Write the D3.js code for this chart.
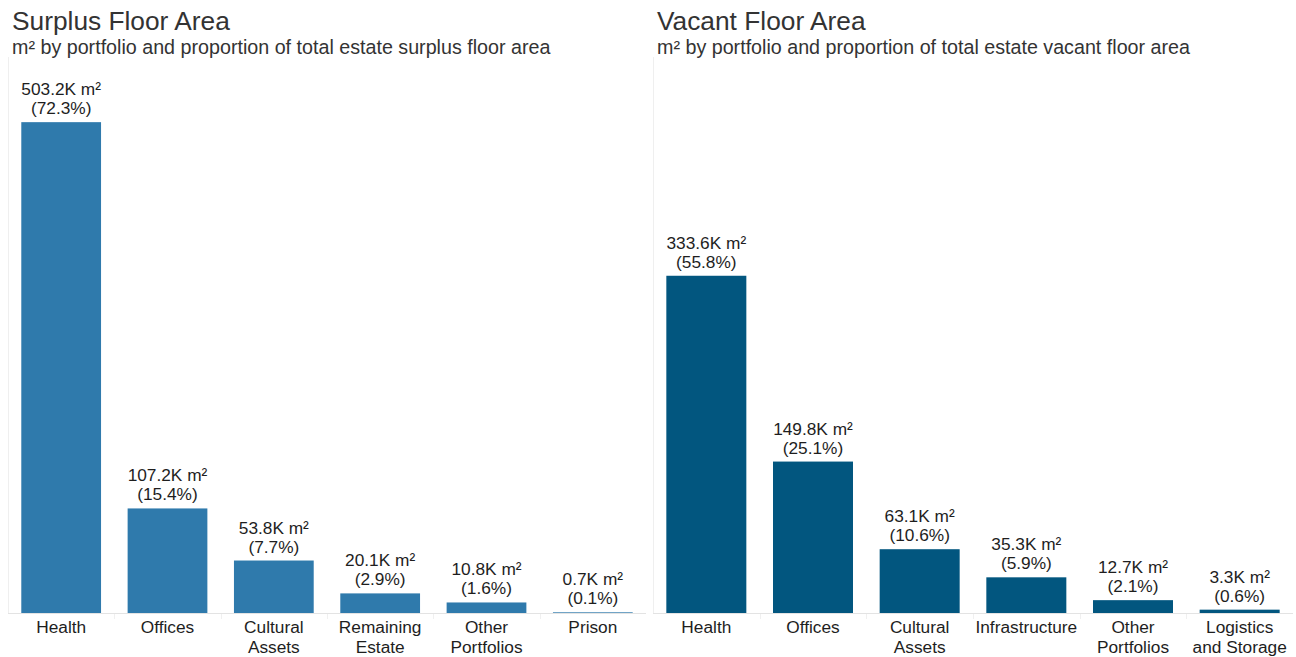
<!DOCTYPE html>
<html>
<head>
<meta charset="utf-8">
<script src="https://cdn.jsdelivr.net/npm/d3@7"></script>
<style>
  html, body { margin: 0; padding: 0; background: #fff; }
  svg { display: block; font-family: "Liberation Sans", Arial, Helvetica, sans-serif; }
</style>
</head>
<body>
<svg id="chart" width="1296" height="657"></svg>
<script>
// Surplus floor area by portfolio (thousand m²) and share of total estate surplus
const surplusCategories = ["Health", "Offices", "Cultural\nAssets", "Remaining\nEstate", "Other\nPortfolios", "Prison"];
const surplusValues = [503.2, 107.2, 53.8, 20.1, 10.8, 0.7];
const surplusShares = [72.3, 15.4, 7.7, 2.9, 1.6, 0.1];

// Vacant floor area by portfolio (thousand m²) and share of total estate vacant
const vacantCategories = ["Health", "Offices", "Cultural\nAssets", "Infrastructure", "Other\nPortfolios", "Logistics\nand Storage"];
const vacantValues = [333.6, 149.8, 63.1, 35.3, 12.7, 3.3];
const vacantShares = [55.8, 25.1, 10.6, 5.9, 2.1, 0.6];

const svg = d3.select("#chart");

const panels = [
  {
    title: "Surplus Floor Area",
    subtitle: "by portfolio and proportion of total estate surplus floor area",
    categories: surplusCategories, values: surplusValues, shares: surplusShares,
    x0: 8, x1: 646, textX: 12, yMax: 570, color: "#2f7aac"
  },
  {
    title: "Vacant Floor Area",
    subtitle: "by portfolio and proportion of total estate vacant floor area",
    categories: vacantCategories, values: vacantValues, shares: vacantShares,
    x0: 653, x1: 1293, textX: 657, yMax: 550, color: "#02567f"
  }
];

const plotTop = 57, baseY = 613;

panels.forEach(p => {
  const g = svg.append("g");

  // Title and subtitle
  g.append("text")
    .attr("x", p.textX).attr("y", 30)
    .attr("font-size", 26.3).attr("fill", "#333")
    .text(p.title);
  const sub = g.append("text")
    .attr("x", p.textX).attr("y", 54)
    .attr("font-size", 19.7).attr("fill", "#333");
  sub.append("tspan").text("m²");
  sub.append("tspan").text(" " + p.subtitle);

  const x = d3.scaleBand()
    .domain(p.categories)
    .range([p.x0, p.x1])
    .paddingInner(0.25).paddingOuter(0.125);

  const y = d3.scaleLinear()
    .domain([0, p.yMax])
    .range([baseY, plotTop]);

  // Pane left border
  g.append("line")
    .attr("x1", p.x0 + 0.5).attr("x2", p.x0 + 0.5)
    .attr("y1", plotTop).attr("y2", baseY)
    .attr("stroke", "#efefef").attr("stroke-width", 1);

  // Bars
  g.selectAll("rect.bar")
    .data(p.values)
    .join("rect")
    .attr("class", "bar")
    .attr("x", (d, i) => x(p.categories[i]))
    .attr("width", x.bandwidth())
    .attr("y", d => y(d))
    .attr("height", d => baseY - y(d))
    .attr("fill", p.color);

  // Category axis
  const axis = d3.axisBottom(x).tickSize(0).tickPadding(0);
  const ax = g.append("g")
    .attr("transform", `translate(0,${baseY})`)
    .call(axis);
  ax.select(".domain")
    .attr("stroke", "#e3e3e3")
    .attr("d", `M${p.x0},0.5H${p.x1}`);
  ax.selectAll(".tick text").remove();
  ax.selectAll(".tick").each(function (d) {
    const lines = d.split("\n");
    const t = d3.select(this).append("text")
      .attr("fill", "#1e1e1e")
      .attr("font-size", 17.3)
      .attr("font-family", "\"Liberation Sans\", Arial, sans-serif")
      .attr("text-anchor", "middle");
    lines.forEach((ln, k) => {
      t.append("tspan").attr("x", 0).attr("y", 20 + k * 20).text(ln);
    });
  });

  // Faint separators between categories below the baseline
  const step = x.step();
  const seps = d3.range(1, p.categories.length).map(i => x(p.categories[i]) - step * x.paddingInner() / 2);
  g.selectAll("line.sep")
    .data(seps)
    .join("line")
    .attr("class", "sep")
    .attr("x1", d => Math.round(d) + 0.5).attr("x2", d => Math.round(d) + 0.5)
    .attr("y1", baseY + 1).attr("y2", baseY + 6)
    .attr("stroke", "#f0f0f0");

  // Value labels above bars
  const labels = g.selectAll("text.val")
    .data(p.values)
    .join("text")
    .attr("class", "val")
    .attr("text-anchor", "middle")
    .attr("font-size", 17.3)
    .attr("fill", "#1e1e1e");
  labels.each(function (d, i) {
    const cx = x(p.categories[i]) + x.bandwidth() / 2;
    const top = y(d);
    const t = d3.select(this);
    t.append("tspan").attr("x", cx).attr("y", top - 27)
      .text(d3.format(".1f")(d) + "K m²");
    t.append("tspan").attr("x", cx).attr("y", top - 8)
      .text("(" + d3.format(".1f")(p.shares[i]) + "%)");
  });
});
</script>
</body>
</html>
